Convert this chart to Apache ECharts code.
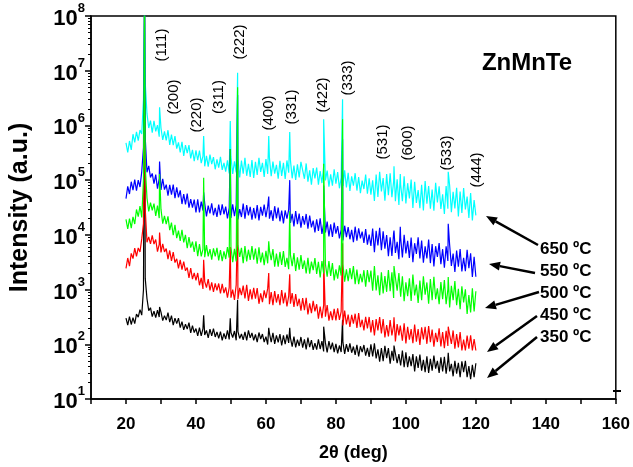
<!DOCTYPE html>
<html>
<head>
<meta charset="utf-8">
<script src="https://cdn.jsdelivr.net/npm/echarts@6/dist/echarts.min.js"></script>
<style>
html, body { margin: 0; padding: 0; background: #fff; }
#chart { width: 633px; height: 467px; }
</style>
</head>
<body>
<div id="chart"></div>
<script>
// XRD scans, 2theta from 20 to 120 deg, read every 0.5 deg
const scanStart = 20;
const scanStep = 0.5;

const black350 = [
  301, 225, 320, 230, 307, 239, 356, 314, 429, 341,
  1000, 1600, 680, 412, 466, 320, 404, 307, 421, 314,
  386, 271, 334, 277, 379, 255, 334, 225, 301, 239,
  301, 202, 260, 183, 234, 190, 249, 161, 220, 164,
  194, 142, 202, 142, 194, 148, 179, 131, 190, 142,
  194, 136, 168, 128, 171, 118, 158, 125, 179, 123,
  164, 133, 175, 118, 171, 128, 154, 120, 168, 118,
  179, 131, 161, 118, 151, 110, 164, 125, 154, 110,
  138, 99, 160, 110, 161, 102, 146, 108, 154, 95,
  146, 101, 151, 106, 131, 91, 138, 88, 122, 93,
  136, 87, 123, 81, 133, 89, 119, 79, 105, 80,
  123, 82, 114, 74, 106, 71, 114, 81, 107, 72,
  102, 68, 95, 72, 108, 67, 101, 73, 104, 70,
  91, 64, 98, 60, 92, 72, 97, 62, 86, 59,
  100, 60, 104, 55, 81, 48, 85, 49, 94, 56,
  85, 44, 76, 50, 89, 45, 66, 41, 77, 38,
  71, 38, 60, 40, 66, 32, 60, 37, 65, 33,
  52, 31, 60, 30, 54, 33, 62, 36, 50, 30,
  58, 32, 59, 29, 52, 32, 44, 26, 50, 29,
  46, 25, 49, 31, 50, 25, 40, 23, 42, 25, 45
];
const red450 = [
  2430, 3780, 2690, 4590, 3690, 5700, 4060, 5770, 4860, 8430,
  16000, 30000, 7330, 9180, 6840, 9830, 6800, 8220, 4950, 6730,
  4780, 6840, 4880, 5610, 3600, 5180, 3340, 4820, 3110, 3660,
  2430, 3500, 2310, 3240, 2200, 2530, 1630, 2460, 1550, 2020,
  1470, 2010, 1200, 1640, 1030, 1400, 1090, 1560, 970, 1350,
  910, 1300, 970, 1290, 850, 1270, 860, 1100, 710, 1090,
  710, 1000, 650, 1220, 670, 1070, 790, 1180, 690, 1220,
  620, 1010, 660, 1070, 680, 1060, 550, 850, 590, 970,
  700, 1050, 540, 900, 520, 940, 580, 830, 520, 980,
  560, 880, 490, 760, 550, 860, 480, 830, 500, 680,
  410, 700, 420, 710, 350, 560, 370, 620, 400, 540,
  295, 490, 300, 520, 320, 520, 270, 400, 276, 445,
  274, 456, 280, 396, 220, 415, 230, 350, 207, 345,
  239, 362, 200, 371, 206, 281, 179, 318, 196, 316,
  164, 277, 145, 288, 179, 314, 158, 288, 133, 225,
  139, 277, 145, 225, 113, 234, 145, 237, 116, 242,
  104, 209, 121, 189, 105, 229, 112, 190, 97, 204,
  123, 209, 102, 216, 109, 186, 90, 162, 110, 196,
  91, 168, 85, 177, 93, 151, 102, 179, 83, 154,
  88, 168, 77, 122, 77, 145, 83, 146, 77, 125, 77
];
const green500 = [
  19200, 12800, 19900, 13300, 21300, 15800, 29100, 21600, 33400, 20800,
  100000, 180000, 47200, 26800, 38700, 27900, 37200, 22100, 34400, 20200,
  29500, 16000, 22200, 15700, 21700, 12200, 16700, 9830, 15300, 8700,
  12000, 7770, 12400, 7260, 10000, 5700, 9130, 5830, 7530, 4860,
  7640, 4080, 6760, 4040, 5490, 3900, 6470, 4050, 5470, 3530,
  5680, 4040, 5770, 3410, 5290, 3310, 4990, 3620, 5950, 3830,
  6000, 3170, 5560, 3280, 6470, 3960, 5770, 3050, 6230, 3280,
  5350, 3470, 6210, 3530, 5630, 2970, 5950, 3140, 4750, 2800,
  5110, 3020, 5200, 3440, 5490, 2630, 4530, 2620, 4870, 2820,
  5030, 2600, 3790, 2360, 4300, 2690, 4630, 2180, 3900, 2300,
  4270, 2380, 3400, 1970, 3790, 1960, 3240, 2270, 3760, 1940,
  3220, 1660, 3330, 1970, 2910, 1720, 3310, 1780, 3060, 1470,
  2340, 1590, 2760, 1800, 2900, 1400, 2340, 1420, 2460, 1550,
  2690, 1250, 2320, 1250, 1930, 1360, 2260, 1130, 2270, 1370,
  2220, 950, 2690, 960, 1820, 790, 2070, 850, 1770, 910,
  2280, 930, 2060, 700, 1660, 950, 2010, 740, 1750, 610,
  1360, 760, 1600, 620, 1880, 780, 1230, 570, 1460, 640,
  1740, 805, 1350, 550, 1560, 640, 1710, 670, 1050, 540,
  1370, 670, 1490, 540, 1010, 470, 1170, 640, 1430, 520,
  1030, 440, 1150, 580, 1010, 360, 790, 380, 1060, 400, 930
];
const blue550 = [
  46000, 77200, 55800, 93600, 65600, 102000, 64300, 100000, 75000, 142000,
  400000, 600000, 139000, 182000, 112000, 133000, 86000, 126000, 70000, 107000,
  66000, 106000, 67000, 82600, 52000, 82000, 54200, 82600, 46800, 73900,
  48600, 65000, 36600, 55300, 36000, 56800, 31300, 45100, 31400, 44000,
  25700, 44600, 25600, 40600, 27800, 37600, 21700, 34300, 24600, 37800,
  22800, 31100, 21200, 35600, 22800, 36200, 23800, 32800, 20000, 31000,
  20500, 36200, 21900, 35000, 19200, 29600, 21200, 37400, 19800, 35000,
  22700, 32400, 18900, 31000, 19900, 35000, 18400, 32400, 22500, 35900,
  21000, 33100, 19800, 28200, 18000, 33400, 20000, 31500, 17700, 27900,
  16200, 28000, 19700, 28800, 16500, 24100, 14300, 27300, 15700, 24500,
  13600, 22000, 15400, 24100, 13000, 22400, 13700, 18200, 11100, 19300,
  11800, 20000, 10400, 16200, 11000, 17400, 9400, 15600, 9130, 16700,
  10500, 14500, 8650, 12400, 7900, 14700, 9100, 13900, 8300, 12300,
  7330, 14100, 7800, 13200, 8650, 11500, 7100, 12700, 6620, 10100,
  6250, 13100, 4830, 11900, 6400, 13400, 5220, 11600, 5580, 9950,
  4080, 9000, 4130, 10800, 4670, 7430, 3600, 8870, 3850, 10000,
  4590, 7790, 3800, 8930, 3150, 7040, 4490, 8980, 3720, 7850,
  3090, 6150, 3700, 8220, 3050, 6760, 2640, 6200, 3950, 7070,
  2910, 5470, 2500, 6180, 3330, 6590, 2710, 4570, 2090, 5160,
  2630, 5510, 2150, 3820, 2170, 5350, 2450, 4620, 1700, 3960, 1720
];
const cyan650 = [
  482000, 320000, 520000, 356000, 690000, 492000, 766000, 526000, 822000, 697000,
  3000000, 6000000, 1640000, 898000, 1220000, 740000, 1210000, 777000, 1010000, 624000,
  898000, 542000, 780000, 531000, 818000, 442000, 682000, 438000, 640000, 376000,
  488000, 320000, 503000, 277000, 436000, 313000, 438000, 249000, 359000, 222000,
  350000, 231000, 348000, 205000, 275000, 179000, 279000, 177000, 292000, 196000,
  264000, 158000, 239000, 170000, 266000, 154000, 207000, 143000, 230000, 133000,
  266000, 130000, 221000, 139000, 249000, 112000, 227000, 131000, 255000, 120000,
  198000, 115000, 234000, 110000, 216000, 125000, 255000, 142000, 207000, 115000,
  244000, 130000, 252000, 118000, 218000, 132000, 190000, 106000, 225000, 120000,
  207000, 105000, 229000, 137000, 232000, 108000, 184000, 101000, 195000, 112000,
  216000, 202000, 106000, 202000, 93600, 151000, 82600, 166000, 108000, 169000,
  82600, 147000, 88500, 179000, 98900, 149000, 76200, 128000, 79000, 158000,
  86000, 140000, 71000, 111000, 78600, 151000, 73500, 136000, 63200, 117000,
  79000, 134000, 64500, 114000, 57700, 97800, 68800, 126000, 56300, 108000,
  54500, 99000, 41700, 127000, 49400, 142000, 62400, 109000, 42200, 129000,
  53300, 134000, 48600, 95000, 41300, 104000, 35300, 83300, 41200, 117000,
  37400, 88000, 46500, 103000, 30900, 93600, 38300, 66100, 30700, 82000,
  27900, 96200, 37200, 78000, 30100, 67000, 27600, 89300, 39200, 76900,
  29700, 54900, 24000, 78000, 30100, 80800, 26000, 61500, 30500, 72300,
  21700, 61800, 25200, 71400, 29100, 50000, 20400, 58000, 18400, 43300, 22700
];

// diffraction peaks: position and apex height for each sample
const peakAngles = [25.3, 29.6, 42.2, 49.8, 51.9, 60.8, 66.8, 76.5, 81.9, 96.6, 98.4, 112.1];
const black350Peaks = [2e8, 480, 340, 300, 650, 200, 200, 210, 280, 95, 65, 70];
const red450Peaks = [2e8, 11000, 3500, 6000, 20000, 2000, 1900, 3500, 7000, 310, 220, 210];
const green500Peaks = [2e8, 130000, 110000, 370000, 5000000, 7600, 27000, 200000, 1300000, 2700, 2000, 1700];
const blue550Peaks = [2e8, 220000, 60000, 370000, 3600000, 50000, 100000, 80000, 560000, 12000, 14000, 16000];
const cyan650Peaks = [2e8, 2150000, 640000, 1200000, 9200000, 640000, 760000, 1300000, 3000000, 180000, 130000, 142000];

const peakLabels = ['(111)', '(200)', '(220)', '(311)', '(222)', '(400)', '(331)', '(422)', '(333)', '(531)', '(600)', '(533)', '(444)'];
const tempLabels = ['650 ºC', '550 ºC', '500 ºC', '450 ºC', '350 ºC'];

const FONT = 'Liberation Sans, Arial, sans-serif';

function buildSeries(scan, peaks) {
  const pts = scan.map((v, i) => [scanStart + i * scanStep, v]);
  peakAngles.forEach((a, k) => pts.push([a, peaks[k]]));
  pts.sort((p, q) => p[0] - q[0]);
  return pts;
}

// minor ticks 2..9 in every decade
const minorTicks = [];
for (let e = 1; e < 8; e++) {
  for (let m = 2; m <= 9; m++) minorTicks.push(m * Math.pow(10, e));
}

var myChart = echarts.init(document.getElementById('chart'));

// peak index labels (vertical), pixel centres
const labelPos = [
  [162, 45], [174, 97], [197, 115], [219, 97], [240, 42], [269, 113], [292, 107],
  [323, 95], [348, 78], [383, 142], [408, 143], [447, 153], [477, 170]
];
// arrows: tail -> tip
const arrows = [
  [538, 245, 486, 216],
  [535, 273, 489, 264],
  [539, 292, 485, 308],
  [537, 316, 487, 352],
  [537, 337, 487, 378]
];
const tempY = [249, 271, 293, 315, 337];

const graphics = [];
peakLabels.forEach((t, i) => {
  graphics.push({
    type: 'text', x: labelPos[i][0], y: labelPos[i][1], rotation: Math.PI / 2,
    style: { text: t, font: '15px ' + FONT, fill: '#000', align: 'center', verticalAlign: 'middle' }
  });
});
tempLabels.forEach((t, i) => {
  graphics.push({
    type: 'text', x: 540, y: tempY[i],
    style: { text: t, font: 'bold 17px ' + FONT, fill: '#000', align: 'left', verticalAlign: 'middle' }
  });
});
arrows.forEach(a => {
  const dx = a[2] - a[0], dy = a[3] - a[1];
  const len = Math.sqrt(dx * dx + dy * dy);
  const ux = dx / len, uy = dy / len;
  const bx = a[2] - ux * 11, by = a[3] - uy * 11;
  graphics.push({
    type: 'line', shape: { x1: a[0], y1: a[1], x2: bx, y2: by },
    style: { stroke: '#000', lineWidth: 2.5 }
  });
  graphics.push({
    type: 'polygon',
    shape: { points: [[a[2], a[3]], [bx - uy * 4.5, by + ux * 4.5], [bx + uy * 4.5, by - ux * 4.5]] },
    style: { fill: '#000' }
  });
});
graphics.push({
  type: 'text', x: 527, y: 63,
  style: { text: 'ZnMnTe', font: 'bold 24px ' + FONT, fill: '#000', align: 'center', verticalAlign: 'middle' }
});
graphics.push({
  type: 'line', shape: { x1: 613, y1: 391, x2: 621, y2: 391 },
  style: { stroke: '#000', lineWidth: 2 }
});

function lineSeries(name, color, scan, peaks) {
  return {
    name: name,
    type: 'line',
    showSymbol: false,
    symbol: 'none',
    animation: false,
    lineStyle: { color: color, width: 1.2 },
    data: buildSeries(scan, peaks)
  };
}

var option = {
  animation: false,
  grid: {
    left: 88, right: 16, top: 16, bottom: 65,
    show: true, borderColor: '#000', borderWidth: 1.5
  },
  xAxis: {
    type: 'value',
    min: 10, max: 160, interval: 10,
    name: '2θ (deg)',
    nameLocation: 'middle',
    nameGap: 45,
    nameTextStyle: { color: '#000', fontSize: 18, fontWeight: 'bold', fontFamily: FONT },
    axisLine: { lineStyle: { color: '#000', width: 1.5 } },
    axisTick: { inside: false, length: 5, lineStyle: { color: '#000', width: 1.5 } },
    axisLabel: {
      margin: 17, color: '#000', fontSize: 17, fontWeight: 'bold', fontFamily: FONT,
      formatter: v => (v % 20 === 0 ? String(v) : '')
    },
    splitLine: { show: false }
  },
  yAxis: [
    {
      type: 'log',
      logBase: 10,
      min: 10, max: 1e8,
      splitNumber: 7,
      name: 'Intensity (a.u.)',
      nameLocation: 'middle',
      nameGap: 58,
      nameTextStyle: { color: '#000', fontSize: 25, fontWeight: 'bold', fontFamily: FONT },
      axisLine: { show: true, lineStyle: { color: '#000', width: 1.5 } },
      axisTick: { inside: false, length: 6, lineStyle: { color: '#000', width: 1.5 } },
      axisLabel: {
        margin: 6,
        formatter: v => '{b|10}{s|' + Math.round(Math.log10(v)) + '}',
        rich: {
          b: { fontSize: 22, fontWeight: 'bold', fontFamily: FONT, color: '#000', lineHeight: 28, verticalAlign: 'bottom' },
          s: { fontSize: 13, fontWeight: 'bold', fontFamily: FONT, color: '#000', lineHeight: 28, verticalAlign: 'top' }
        }
      },
      splitLine: { show: false }
    },
    {
      type: 'log',
      logBase: 10,
      min: 10, max: 1e8,
      position: 'left',
      axisLine: { show: false },
      axisLabel: { show: false },
      axisTick: { show: true, inside: false, length: 3, customValues: minorTicks, lineStyle: { color: '#000', width: 1 } },
      splitLine: { show: false }
    }
  ],
  // black drawn first so the coloured peaks sit on top of it
  series: [
    lineSeries('350 ºC', '#000000', black350, black350Peaks),
    lineSeries('450 ºC', '#FF0000', red450, red450Peaks),
    lineSeries('650 ºC', '#00FFFF', cyan650, cyan650Peaks),
    lineSeries('550 ºC', '#0000FF', blue550, blue550Peaks),
    lineSeries('500 ºC', '#00FF00', green500, green500Peaks)
  ],
  graphic: graphics
};

myChart.setOption(option);
</script>
</body>
</html>
